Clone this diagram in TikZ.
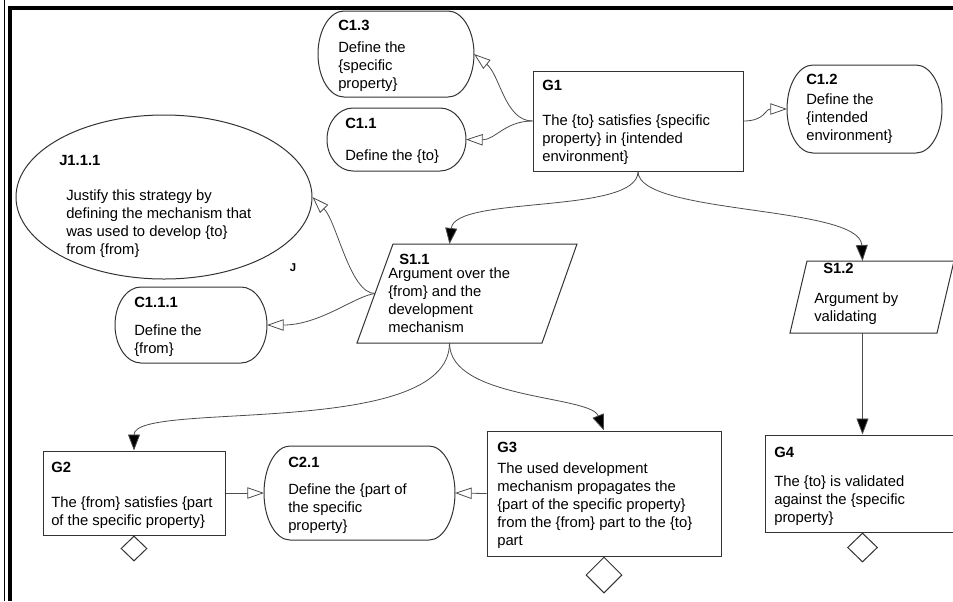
\documentclass[tikz,border=0pt]{standalone}
\usepackage{fontspec}
\setmainfont{Liberation Sans}
\usetikzlibrary{arrows.meta,shapes.geometric,fit}

% one unit = one pixel of a 953 x 601 sheet, y growing downwards
\tikzset{
  pxsize/.style 2 args={minimum width={#1*0.75pt}, minimum height={#2*0.75pt}},
  outline/.style={draw=black!80, line width=0.75pt},
  goalbox/.style={outline, rectangle, inner sep=0pt},
  undeveloped/.style={outline, diamond, inner sep=0pt, anchor=north},
  gsntext/.style={anchor=north west, inner sep=0pt, align=left,
    font=\fontsize{11.1}{13.5}\selectfont, text=black},
  solved/.style={draw=black!70, line width=0.6pt,
    -{Triangle[length=12pt,width=9pt,fill=black]}},
  incontext/.style={draw=black!70, line width=0.6pt,
    -{Triangle[open,length=12.5pt,width=8.5pt,fill=white]}},
  sheetedge/.style={black, line width=3pt, line join=miter},
}

% context element: box with half-elliptic ends, corners (x1,y1) and (x2,y2)
\newcommand\ctxbox[5]{%
  \node[inner sep=0pt, outer sep=0pt, fit={(#2,#3) (#4,#5)}] (#1) {};
  \draw[outline] ({#2+26},#3) -- ({#4-26},#3)
    arc[start angle=90, end angle=-90, x radius=19.5pt, y radius={(#5-#3)*0.375pt}]
    -- ({#2+26},#5)
    arc[start angle=270, end angle=90, x radius=19.5pt, y radius={(#5-#3)*0.375pt}]
    -- cycle;}

\begin{document}
\begin{tikzpicture}[x=0.75pt, y=-0.75pt]
\useasboundingbox (0,0) rectangle (953,601);

% sheet border
\draw[black, line width=0.75pt] (4.5,0) -- (4.5,601);
\draw[sheetedge] (10,601) -- (10,8) -- (953,8);

% goals
\node[goalbox, pxsize={210}{100}] (g1) at (638,121) {};
\node[goalbox, pxsize={182}{84}] (g2) at (134,493) {};
\node[goalbox, pxsize={234}{125}] (g3) at (604,493.5) {};
\node[goalbox, pxsize={194}{97}] (g4) at (862.5,483.5) {};

% contexts
\ctxbox{c13}{318}{11}{474}{97}
\ctxbox{c11}{327}{108}{466}{171}
\ctxbox{c12}{787}{65}{942}{153}
\ctxbox{c111}{115}{287}{267}{363}
\ctxbox{c21}{264}{446}{455}{540}

% justification
\node[outline, ellipse, inner sep=0pt, pxsize={296}{164}] (j111) at (164,197) {};
\node[font=\bfseries\fontsize{8.5}{10}\selectfont] (jtag) at (293,268) {J};

% strategies
\draw[outline] (393,244) -- (577,244) -- (542,343) -- (357,343) -- cycle;
\coordinate (s11-in) at (449.5,244);
\coordinate (s11-out) at (449.5,343);
\coordinate (s11-side) at (375,293.5);
\draw[outline] (807,261) -- (954,261) -- (937,333) -- (790,333) -- cycle;
\coordinate (s12-in) at (862.5,261);
\coordinate (s12-out) at (862.5,333);

% undeveloped markers
\node[undeveloped, pxsize={26}{25}] (g2d) at (g2.south) {};
\node[undeveloped, pxsize={36}{36}] (g3d) at (g3.south) {};
\node[undeveloped, pxsize={30}{29}] (g4d) at (g4.south) {};

% texts
\node[gsntext] (c13t) at (338,20) {\textbf{C1.3}\\[3pt] Define the\\ \{specific\\ property\}};
\node[gsntext] (c11t) at (345,118) {\textbf{C1.1}\\[10.5pt] Define the \{to\}};
\node[gsntext] (g1t) at (542,80) {\textbf{G1}\\[12.75pt] The \{to\} satisfies \{specific\\ property\} in \{intended\\ environment\}};
\node[gsntext] (c12t) at (806,74) {\textbf{C1.2}\\[1.5pt] Define the\\ \{intended\\ environment\}};
\node[gsntext] (j111t) at (66,155) {\hspace*{-5.25pt}\textbf{J1.1.1}\\[12.75pt] Justify this strategy by\\ defining the mechanism that\\ was used to develop \{to\}\\ from \{from\}};
\node[gsntext] (c111t) at (134,297) {\textbf{C1.1.1}\\[7.5pt] Define the\\ \{from\}};
\node[gsntext] (s11t) at (388,254) {\hspace*{8.25pt}\textbf{S1.1}\\[-3pt] Argument over the\\ \{from\} and the\\ development\\ mechanism};
\node[gsntext] (s12t) at (814,263) {\hspace*{6.75pt}\textbf{S1.2}\\[9pt] Argument by\\ validating};
\node[gsntext] (g2t) at (51,462) {\textbf{G2}\\[12.75pt] The \{from\} satisfies \{part\\ of the specific property\}};
\node[gsntext] (c21t) at (288,457) {\textbf{C2.1}\\[6.75pt] Define the \{part of\\ the specific\\ property\}};
\node[gsntext] (g3t) at (497,442) {\textbf{G3}\\[2.25pt] The used development\\ mechanism propagates the\\ \{part of the specific property\}\\ from the \{from\} part to the \{to\}\\ part};
\node[gsntext] (g4t) at (774,447) {\textbf{G4}\\[8.25pt] The \{to\} is validated\\ against the \{specific\\ property\}};

% in-context-of links
\draw[incontext] (g1.west) .. controls (505,121) and (500,75) .. (c13.east);
\draw[incontext] (g1.west) .. controls (505,121) and (495,140) .. (c11.east);
\draw[incontext] (g1.east) .. controls (765,121) and (765,109) .. (c12.west);
\draw[incontext] (s11-side) .. controls (350,293.5) and (337,222) .. (j111.east);
\draw[incontext] (s11-side) .. controls (355,296) and (320,325) .. (c111.east);
\draw[incontext] (g2.east) -- (c21.west);
\draw[incontext] (g3.west) -- (c21.east);

% supported-by links
\draw[solved] (g1.south) .. controls (638,215) and (455,195) .. (s11-in);
\draw[solved] (g1.south) .. controls (638,215) and (860,205) .. (s12-in);
\draw[solved] (s12-out) -- (g4.north);
\draw[solved] (s11-out) .. controls (449.5,440) and (134,400) .. (g2.north);
\draw[solved] (s11-out) .. controls (449.5,400) and (590,395) .. (g3.north);
\end{tikzpicture}
\end{document}
